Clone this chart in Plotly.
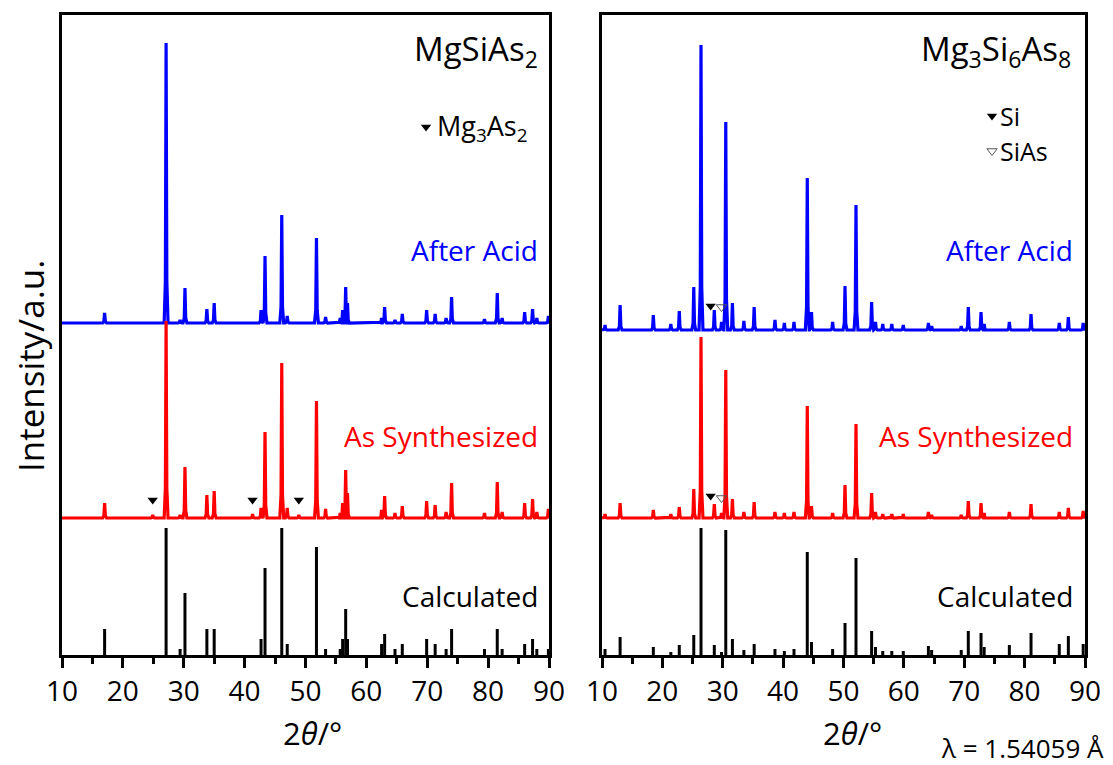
import plotly.graph_objects as go

# ---------------- data: MgSiAs2 (left panel) ----------------
L_pos = [17.0, 27.1, 29.4, 30.2, 33.8, 35.0, 42.7, 43.35, 46.1, 47.0, 51.8, 53.3,
         55.7, 56.1, 56.6, 56.9, 62.5, 63.0, 64.7, 65.9, 69.9, 71.3, 73.1, 74.0,
         79.4, 81.5, 82.3, 86.0, 87.3, 88.0, 89.9]
L_acid = [10, 280, 3, 35, 14, 20, 13, 67, 108, 7, 85, 6,
          5, 13, 36, 20, 5, 16, 3, 9, 13, 9, 5, 26,
          4, 30, 5, 11, 14, 5, 7]
L_synth = [15, 197, 3, 51, 23, 27, 10, 86, 155, 10, 117, 9,
           5, 15, 48, 25, 8, 22, 5, 12, 17, 13, 6, 35,
           5, 36, 6, 15, 19, 6, 9]
L_calc = [26, 127, 6, 62, 26, 26, 16, 87, 127, 11, 108, 6,
          6, 16, 46, 16, 11, 21, 6, 11, 16, 11, 6, 26,
          6, 26, 6, 11, 16, 6, 6]
L_imp_pos = [24.9, 41.3, 48.9]          # Mg3As2 impurity peaks
L_imp_h = [3, 4, 3]

# ---------------- data: Mg3Si6As8 (right panel) ----------------
R_pos = [10.5, 13.0, 18.5, 21.4, 22.8, 25.2, 26.4, 28.6, 29.8, 30.5, 31.6, 33.5,
         35.2, 38.65, 40.2, 41.8, 44.0, 44.7, 48.2, 50.25, 52.07, 54.66, 55.3, 56.5,
         58.0, 59.9, 64.06, 64.6, 69.5, 70.67, 72.78, 73.3, 77.47, 81.06, 85.74,
         87.24, 89.7]
R_acid = [5, 25, 15, 6, 19, 43, 285, 20, 8, 208, 27, 9,
          23, 10, 7, 8, 152, 18, 8, 44, 125, 28, 8, 6,
          6, 5, 7, 4, 4, 23, 18, 6, 8, 16, 7,
          13, 7]
R_synth = [4, 15, 8, 4, 11, 29, 181, 14, 5, 148, 19, 6,
           16, 6, 5, 6, 112, 12, 5, 33, 94, 25, 6, 4,
           4, 4, 6, 3, 3, 17, 15, 5, 6, 14, 6,
           10, 7]
R_calc = [6, 18, 8, 3, 10, 20, 127, 10, 3, 125, 16, 5,
          11, 6, 4, 6, 103, 13, 6, 32, 97, 24, 8, 4,
          4, 4, 9, 5, 5, 24, 22, 8, 10, 22, 11,
          19, 11]
R_si_pos = [28.0]
R_sias_pos = [29.8]

# offsets of the stacked patterns (a.u.)
OFF_ACID_L, OFF_ACID_R, OFF_SYNTH, OFF_CALC = 332, 325, 137, 0

BLUE, RED, BLACK = "#0000FF", "#FF0000", "#000000"
FONT = "Open Sans"


def profile(pos, hts, base):
    pairs = sorted(zip(pos, hts))
    xs, ys = [10.0], [base]
    for p, h in pairs:
        xs += [p - 0.32, p - 0.12, p, p + 0.12, p + 0.32]
        ys += [base, base + 0.15 * h, base + h, base + 0.15 * h, base]
    xs.append(90.0)
    ys.append(base)
    return xs, ys


def sticks(pos, hts, base):
    xs, ys = [], []
    for p, h in zip(pos, hts):
        xs += [p, p, None]
        ys += [base, base + h, None]
    return xs, ys


fig = go.Figure()


def add_panel(xa, ya, pos, acid, synth, calc, off_acid, extra_pos=(), extra_h=()):
    x, y = profile(list(pos) + list(extra_pos), list(acid) + [0] * len(extra_pos), off_acid)
    fig.add_trace(go.Scatter(x=x, y=y, mode="lines", line=dict(color=BLUE, width=3.2),
                             xaxis=xa, yaxis=ya, hoverinfo="skip"))
    x, y = profile(list(pos) + list(extra_pos), list(synth) + list(extra_h), OFF_SYNTH)
    fig.add_trace(go.Scatter(x=x, y=y, mode="lines", line=dict(color=RED, width=3.2),
                             xaxis=xa, yaxis=ya, hoverinfo="skip"))
    x, y = sticks(pos, calc, OFF_CALC)
    fig.add_trace(go.Scatter(x=x, y=y, mode="lines", line=dict(color=BLACK, width=3),
                             xaxis=xa, yaxis=ya, hoverinfo="skip"))


add_panel("x", "y", L_pos, L_acid, L_synth, L_calc, OFF_ACID_L, L_imp_pos, L_imp_h)
add_panel("x2", "y2", R_pos, R_acid, R_synth, R_calc, OFF_ACID_R)

# impurity markers
fig.add_trace(go.Scatter(x=L_imp_pos, y=[OFF_SYNTH + 18] * len(L_imp_pos), mode="markers",
                         marker=dict(symbol="triangle-down", size=9, color=BLACK),
                         xaxis="x", yaxis="y", hoverinfo="skip"))
fig.add_trace(go.Scatter(x=[69.8], y=[528], mode="markers",
                         marker=dict(symbol="triangle-down", size=9, color=BLACK),
                         xaxis="x", yaxis="y", hoverinfo="skip"))
fig.add_trace(go.Scatter(x=R_si_pos * 2, y=[OFF_ACID_R + 24, OFF_SYNTH + 22], mode="markers",
                         marker=dict(symbol="triangle-down", size=9, color=BLACK),
                         xaxis="x2", yaxis="y2", hoverinfo="skip"))
fig.add_trace(go.Scatter(x=R_sias_pos * 2, y=[OFF_ACID_R + 23, OFF_SYNTH + 20], mode="markers",
                         marker=dict(symbol="triangle-down-open", size=9, color="#555555",
                                     line=dict(width=1)),
                         xaxis="x2", yaxis="y2", hoverinfo="skip"))
fig.add_trace(go.Scatter(x=[74.6], y=[539], mode="markers",
                         marker=dict(symbol="triangle-down", size=9, color=BLACK),
                         xaxis="x2", yaxis="y2", hoverinfo="skip"))
fig.add_trace(go.Scatter(x=[74.6], y=[504], mode="markers",
                         marker=dict(symbol="triangle-down-open", size=9, color="#555555",
                                     line=dict(width=1)),
                         xaxis="x2", yaxis="y2", hoverinfo="skip"))

W, H = 1113, 765
ydom = [(765 - 655) / H, (765 - 15) / H]
xcommon = dict(range=[10, 90], tickvals=[10, 20, 30, 40, 50, 60, 70, 80, 90],
               ticks="outside", ticklen=10, tickwidth=2.5, tickcolor=BLACK,
               minor=dict(tickvals=[15, 25, 35, 45, 55, 65, 75, 85], ticks="outside",
                          ticklen=6, tickwidth=2.5, tickcolor=BLACK),
               showline=True, linewidth=2.5, linecolor=BLACK, mirror=True,
               showgrid=False, zeroline=False, automargin=False,
               tickfont=dict(family=FONT, size=28, color=BLACK))
ycommon = dict(range=[0, 640], showline=True, linewidth=2.5, linecolor=BLACK, mirror=True,
               showgrid=False, zeroline=False, showticklabels=False, ticks="",
               automargin=False)

fig.update_layout(
    width=W, height=H, margin=dict(l=0, r=0, t=0, b=0, autoexpand=False),
    paper_bgcolor="white", plot_bgcolor="white", showlegend=False,
    font=dict(family=FONT, color=BLACK),
    xaxis=dict(domain=[62 / W, 549 / W], anchor="y", **xcommon),
    yaxis=dict(domain=ydom, anchor="x", **ycommon),
    xaxis2=dict(domain=[602 / W, 1085 / W], anchor="y2", **xcommon),
    yaxis2=dict(domain=ydom, anchor="x2", **ycommon),
)


def ann(text, x, y, xref, yref, size, color=BLACK, xanchor="right", yanchor="middle", **kw):
    fig.add_annotation(text=text, x=x, y=y, xref=xref, yref=yref, showarrow=False,
                       xanchor=xanchor, yanchor=yanchor,
                       font=dict(family=FONT, size=size, color=color), **kw)


# left panel texts
ann("MgSiAs<sub>2</sub>", 88.6, 605, "x", "y", 33)
ann("Mg<sub>3</sub>As<sub>2</sub>", 71.3, 528, "x", "y", 27, xanchor="left")
ann("After Acid", 88.6, 405, "x", "y", 28, BLUE)
ann("As Synthesized", 88.6, 219, "x", "y", 28, RED)
ann("Calculated", 88.6, 59, "x", "y", 28)

# right panel texts
ann("Mg<sub>3</sub>Si<sub>6</sub>As<sub>8</sub>", 88.0, 605, "x2", "y2", 33)
ann("Si", 75.6, 539, "x2", "y2", 25, xanchor="left")
ann("SiAs", 75.6, 504, "x2", "y2", 25, xanchor="left")
ann("After Acid", 88.3, 405, "x2", "y2", 28, BLUE)
ann("As Synthesized", 88.3, 219, "x2", "y2", 28, RED)
ann("Calculated", 88.3, 59, "x2", "y2", 28)

# axis titles
ann("2<i>θ</i>/°", 312 / W, (765 - 733) / H, "paper", "paper", 31, xanchor="center")
ann("2<i>θ</i>/°", 852 / W, (765 - 733) / H, "paper", "paper", 31, xanchor="center")
ann("Intensity/a.u.", 30 / W, (765 - 366) / H, "paper", "paper", 35, xanchor="center",
    textangle=-90)
ann("λ = 1.54059 Å", 1106 / W, (765 - 748) / H, "paper", "paper", 26)

fig.write_html("out.html")
